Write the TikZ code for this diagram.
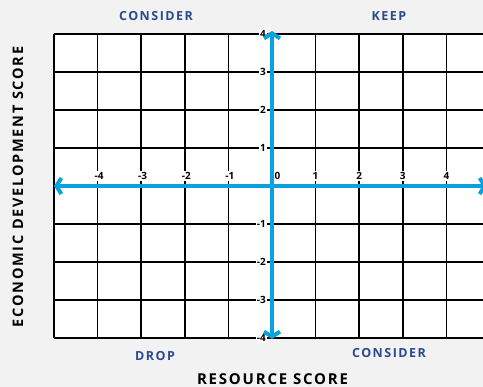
\documentclass[tikz,border=0pt]{standalone}
\usepackage{fontspec}
\setmainfont{Open Sans}
\newfontfamily\capsfont[LetterSpace=12]{Open Sans}
\usetikzlibrary{arrows.meta}
\definecolor{bggray}{HTML}{F2F2F2}
\definecolor{axisblue}{HTML}{0AA2DE}
\definecolor{quadblue}{HTML}{2B4A8E}

\begin{document}
\begin{tikzpicture}[x=1pt, y=-1pt,
        gridline/.style={draw=black, line width=1.6pt},
        axis/.style={draw=axisblue, line width=4pt,
                     {Straight Barb[length=5pt, width=16pt]}-{Straight Barb[length=5pt, width=16pt]}},
        tick/.style={fill=white, inner sep=1pt, font=\fontsize{10}{11}\selectfont\bfseries},
        quad/.style={text=quadblue, font=\fontsize{12.5}{14}\selectfont\capsfont\bfseries},
        label/.style={font=\fontsize{15}{16}\selectfont\capsfont\bfseries}
      ]
      \fill[bggray] (0,0) rectangle (483,387);
      \clip (0,0) rectangle (483,387);

      % grid
      \fill[white] (54,34) rectangle (490,338);
      \foreach \i in {0,...,10}
        \draw[gridline] (54+43.6*\i,34) -- (54+43.6*\i,338);
      \foreach \j in {0,...,8}
        \draw[gridline] (54,34+38*\j) -- (490,34+38*\j);

      % tick labels
      \foreach \v in {-4,-3,-2,-1}
        \node[tick] (x\v) at (273.5+43.6*\v,176) {\v};
      \foreach \v in {1,2,3,4}
        \node[tick] (x\v) at (272+43.6*\v,176) {\v};
      \node[tick, anchor=west] (x0) at (273.5,176) {0};
      \foreach \v in {-4,-3,-2,-1,1,2,3,4}
        \node[tick, anchor=east] (y\v) at (267,186-38*\v) {\v};

      % axes
      \coordinate (top) at (272,31);
      \coordinate (bottom) at (272,339);
      \coordinate (left) at (54,186);
      \coordinate (right) at (487,186);
      \draw[axis] (bottom) -- (top);
      \draw[axis] (left) -- (right);

      \node[quad] (consider1) at (156,16) {CONSIDER};
      \node[quad] (keep) at (389,16) {KEEP};
      \node[quad] (drop) at (155,356) {DROP};
      \node[quad] (consider2) at (389,353) {CONSIDER};

      \node[label] (resource) at (272.5,379.5) {RESOURCE SCORE};
      \node[label, font=\fontsize{14.5}{16}\selectfont\capsfont\bfseries, rotate=90]
        (econ) at (18,187) {ECONOMIC DEVELOPMENT SCORE};
    \end{tikzpicture}
\end{document}
